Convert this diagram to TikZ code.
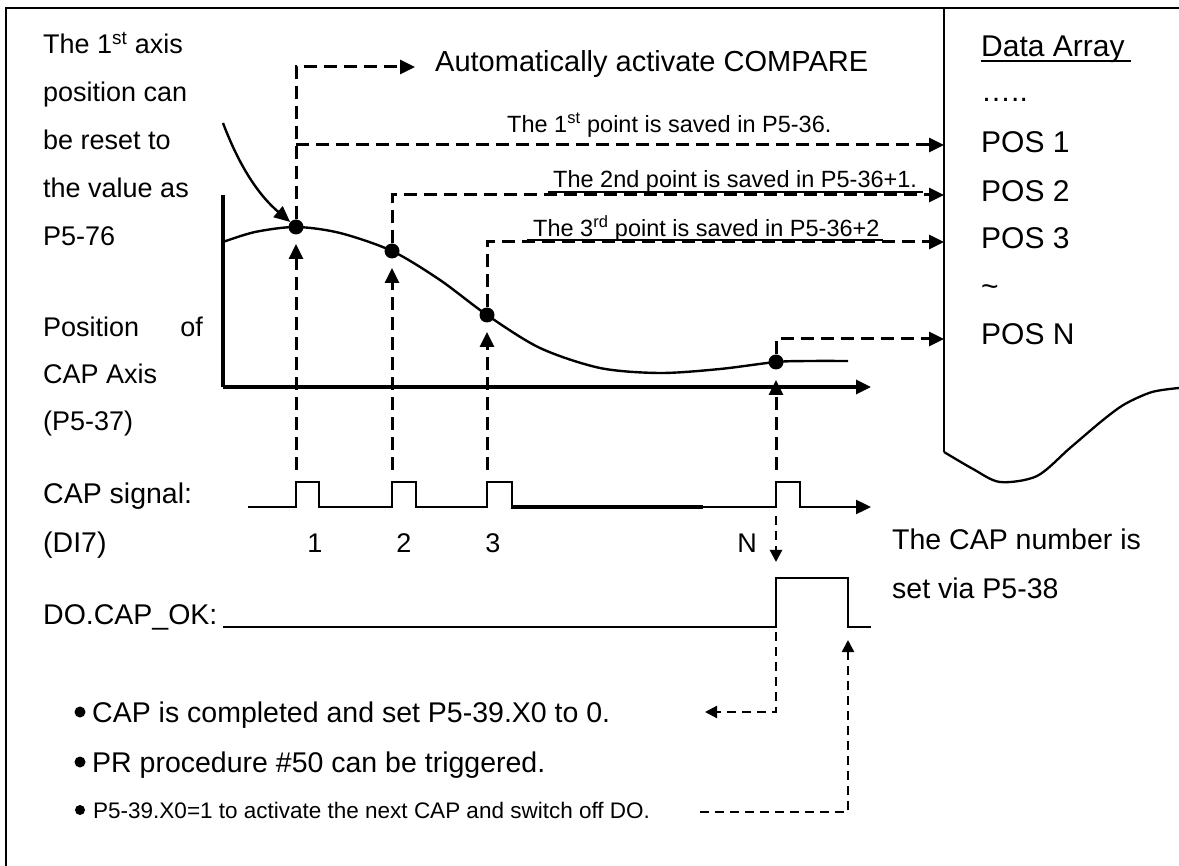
\documentclass[tikz,border=0pt]{standalone}
\usepackage{fontspec}
\setmainfont{Liberation Sans}
\usetikzlibrary{arrows.meta}
\begin{document}
\begin{tikzpicture}[x=1pt,y=-1pt,
  txt/.style={anchor=base west,inner sep=0pt,font=\fontsize{27}{32}\selectfont},
  big/.style={anchor=base west,inner sep=0pt,font=\fontsize{29}{34}\selectfont},
  arr/.style={anchor=base west,inner sep=0pt,font=\fontsize{30}{36}\selectfont},
  sml/.style={anchor=base west,inner sep=0pt,font=\fontsize{23.5}{28}\selectfont},
  tiny/.style={anchor=base west,inner sep=0pt,font=\fontsize{22.5}{27}\selectfont},
  note/.style={anchor=base west,inner sep=0pt,font=\fontsize{28.5}{33}\selectfont},
  dot/.style={circle,fill,inner sep=0pt,minimum size=15pt},
  bul/.style={circle,fill,inner sep=0pt,minimum size=11pt},
  dsh/.style={line width=3pt,dash pattern=on 13pt off 7pt},
  dshs/.style={line width=2.3pt,dash pattern=on 9pt off 6pt},
  sig/.style={line width=2.4pt},
  bigtip/.style={-{Triangle[length=15pt,width=14pt]}},
  smalltip/.style={-{Triangle[length=12pt,width=12pt]}},
]
\useasboundingbox (0,0) rectangle (1179,866);
% frame
\draw[line width=2.8pt] (6,866) -- (6,8) -- (1179,8);
% data array box
\draw[line width=2.3pt] (944,8) -- (944,452);
\draw[line width=2.3pt] plot[smooth] coordinates {(944,452) (973,469) (1000,482) (1037,476) (1070,448) (1103,420) (1125,404) (1152,392) (1179,388)};
% left texts
\node[txt] (t1) at (43,54) {The 1\textsuperscript{st} axis};
\node[txt] (t2) at (43,102) {position can};
\node[txt] (t3) at (43,150) {be reset to};
\node[txt] (t4) at (43,198) {the value as};
\node[txt] (t5) at (43,246) {P5-76};
\node[txt] (p1) at (43,337) {Position};
\node[txt,anchor=base east] (p2) at (203,337) {of};
\node[txt] (p3) at (43,384) {CAP Axis};
\node[txt] (p4) at (43,431) {(P5-37)};
\node[note] (cs) at (43,504) {CAP signal:};
\node[note] (di) at (43,552) {(DI7)};
\node[note] (do) at (43,624) {DO.CAP\_OK:};
% top texts
\node[big] (ac) at (435,72) {Automatically activate COMPARE};
\node[sml] (s1) at (507,133) {The 1\textsuperscript{st} point is saved in P5-36.};
\node[sml] (s2) at (553,188) {The 2nd point is saved in P5-36+1.};
\draw[line width=1.3pt] (548,192) -- (923,192);
\node[sml] (s3) at (533,237) {The 3\textsuperscript{rd} point is saved in P5-36+2};
\draw[line width=1.3pt] (527,240) -- (883,240);
% data array texts
\node[arr] (da) at (981,57) {Data Array};
\draw[line width=2.2pt] (981,61) -- (1131,61);
\node[arr] (dd) at (981,102) {…..};
\node[arr] (pos1) at (981,153) {POS 1};
\node[arr] (pos2) at (981,202) {POS 2};
\node[arr] (pos3) at (981,249) {POS 3};
\node[arr] (til) at (981,297) {\char`\~};
\node[arr] (posn) at (981,345) {POS N};
\coordinate (e1) at (944,145);
\coordinate (e2) at (944,195);
\coordinate (e3) at (944,242);
\coordinate (en) at (944,339);
\coordinate (eac) at (415,67);
% axes
\draw[line width=3.3pt] (223,195) -- (223,387);
\draw[line width=3.3pt,bigtip] (223,387) -- (871,387);
% curve
\draw[line width=2.4pt] plot[smooth] coordinates {(223,242) (255,232) (296,227) (340,233) (392,251) (440,280) (487,315) (540,348) (600,368) (660,373) (720,369) (776,362) (810,361) (848,361)};
\node[dot] (d1) at (296,227) {};
\node[dot] (d2) at (392,251) {};
\node[dot] (d3) at (487,315) {};
\node[dot] (dn) at (776,362) {};
% curved arrow
\draw[line width=2.4pt,-{Triangle[length=16pt,width=14pt]}] (223,123) .. controls (237,160) and (255,192) .. (d1);
% dashed connectors up
\draw[dsh,bigtip] (d1.north) -- (296,67) -- (eac);
\draw[dsh,bigtip] (296,145) -- (e1);
\draw[dsh,bigtip] (d2.north) -- (392,195) -- (e2);
\draw[dsh,bigtip] (d3.north) -- (487,242) -- (e3);
\draw[dsh,bigtip] (dn.north) -- (776,339) -- (en);
% CAP signal
\coordinate (c1) at (296,482);
\coordinate (c2) at (392,482);
\coordinate (c3) at (487,482);
\coordinate (cn) at (776,482);
\draw[sig] (248,507) -- (296,507) -- (c1) -- (319,482) -- (319,507) -- (392,507) -- (c2) -- (416,482) -- (416,507) -- (487,507) -- (c3) -- (512,482) -- (512,507);
\draw[line width=4.5pt] (511,507) -- (703,507);
\draw[sig,bigtip] (703,507) -- (776,507) -- (cn) -- (800,482) -- (800,507) -- (871,507);
\draw[dsh,bigtip] (296,470) -- (296,244);
\draw[dsh,bigtip] (392,470) -- (392,268);
\draw[dsh,bigtip] (487,470) -- (487,332);
\draw[dsh,bigtip] (776,470) -- (776,380);
\node[txt,anchor=base] (n1) at (315,552) {1};
\node[txt,anchor=base] (n2) at (404,552) {2};
\node[txt,anchor=base] (n3) at (493,552) {3};
\node[txt,anchor=base] (nn) at (747,552) {N};
% DO signal
\draw[sig] (223,627) -- (776,627) -- (776,578) -- (848,578) -- (848,627) -- (871,627);
\draw[dshs,smalltip] (776,516) -- (776,562);
\node[note] (cn1) at (892,550) {The CAP number is};
\node[note] (cn2) at (892,598) {set via P5-38};
% bullets
\node[bul] (bu1) at (80,712) {};
\node[bul] (bu2) at (80,762) {};
\node[bul,minimum size=10pt] (bu3) at (80,810) {};
\node[note] (b1) at (92,722) {CAP is completed and set P5-39.X0 to 0.};
\node[note] (b2) at (92,772) {PR procedure \#50 can be triggered.};
\node[tiny] (b3) at (93,818) {P5-39.X0=1 to activate the next CAP and switch off DO.};
\coordinate (la) at (705,712);
\coordinate (ra) at (848,640);
\draw[dshs,smalltip] (776,632) -- (776,712) -- (la);
\draw[dshs,smalltip] (700,812) -- (848,812) -- (ra);
\end{tikzpicture}
\end{document}
